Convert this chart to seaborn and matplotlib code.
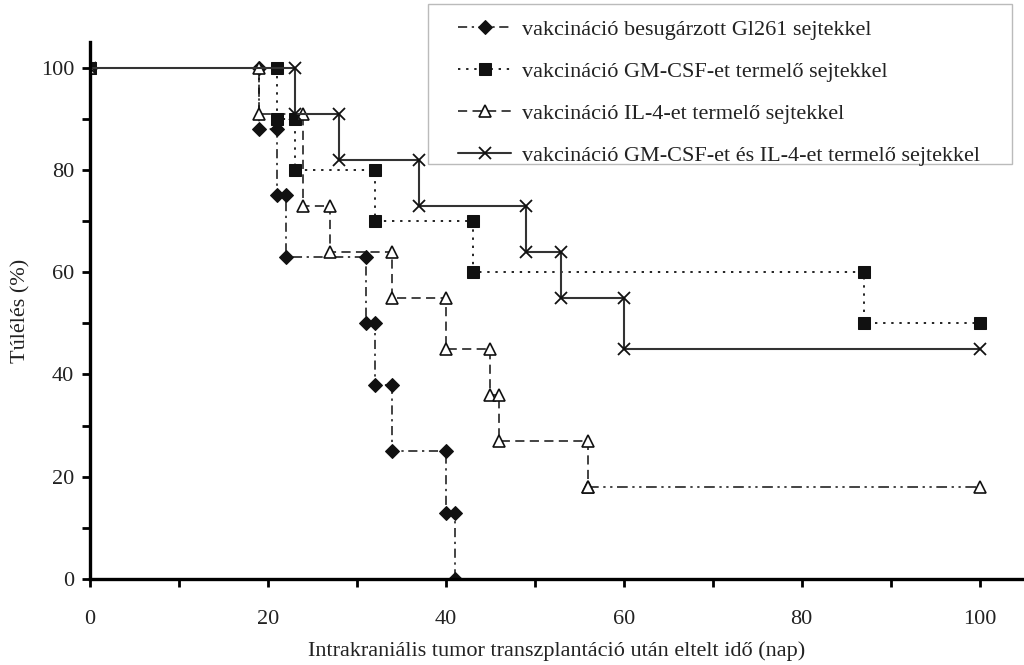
import matplotlib
matplotlib.use("Agg")
import matplotlib.pyplot as plt
from matplotlib.ticker import MultipleLocator
from matplotlib.patches import Rectangle
import seaborn as sns
import pandas as pd

# Survival data: event day and survival level (%) after each event
gl261_days = [19, 21, 22, 31, 32, 34, 40, 41]
gl261_surv = [88, 75, 63, 50, 38, 25, 13, 0]

gmcsf_days = [21, 23, 32, 43, 87]
gmcsf_surv = [90, 80, 70, 60, 50]

il4_days = [19, 24, 27, 34, 40, 45, 46, 56]
il4_surv = [91, 73, 64, 55, 45, 36, 27, 18]

combo_days = [23, 28, 37, 49, 53, 60]
combo_surv = [91, 82, 73, 64, 55, 45]

start_level = 100
followup_end = 100

labels = [
    "vakcináció besugárzott Gl261 sejtekkel",
    "vakcináció GM-CSF-et termelő sejtekkel",
    "vakcináció IL-4-et termelő sejtekkel",
    "vakcináció GM-CSF-et és IL-4-et termelő sejtekkel",
]


def km_steps(days, surv):
    """Vertices of a Kaplan-Meier step curve, a marker at every corner."""
    xs, ys = [0], [start_level]
    prev = start_level
    for d, s in zip(days, surv):
        xs += [d, d]
        ys += [prev, s]
        prev = s
    if prev > 0 and days[-1] < followup_end:
        xs.append(followup_end)
        ys.append(prev)
    return pd.DataFrame({"nap": xs, "tulel": ys})


sns.set_style("ticks")
plt.rcParams["font.family"] = ["Liberation Serif", "DejaVu Serif"]

FS = 16
W, H = 1024, 665
fig = plt.figure(figsize=(W / 100, H / 100), dpi=100)
ax = fig.add_axes([0.0879, 0.1293, 0.9121, 0.8075])

ink = "#111111"

# Gl261: dash-dot line with filled diamonds
d1 = km_steps(gl261_days, gl261_surv)
sns.lineplot(data=d1, x="nap", y="tulel", ax=ax, sort=False, estimator=None,
             color=ink, lw=1.1, linestyle=(0, (6, 3, 1.5, 3)),
             marker="D", markersize=7.5, markeredgecolor=ink, markerfacecolor=ink,
             label=labels[0])

# GM-CSF: dotted line with filled squares
d2 = km_steps(gmcsf_days, gmcsf_surv)
sns.lineplot(data=d2, x="nap", y="tulel", ax=ax, sort=False, estimator=None,
             color=ink, lw=1.3, linestyle=(0, (1.3, 3.2)),
             marker="s", markersize=8.5, markeredgecolor=ink, markerfacecolor=ink,
             label=labels[1])

# IL-4: dashed line with open triangles; the final follow-up stretch is dash-dot-dot
d3 = km_steps(il4_days, il4_surv)
d3_main = d3.iloc[:-1]
d3_tail = d3.iloc[-2:]
sns.lineplot(data=d3_main, x="nap", y="tulel", ax=ax, sort=False, estimator=None,
             color=ink, lw=1.1, linestyle=(0, (6, 3.5)),
             marker="^", markersize=9, markeredgecolor=ink, markerfacecolor="white",
             markeredgewidth=1.2, label=labels[2])
sns.lineplot(data=d3_tail, x="nap", y="tulel", ax=ax, sort=False, estimator=None,
             color=ink, lw=1.1, linestyle=(0, (7, 3, 1.5, 3, 1.5, 3)),
             marker="^", markersize=9, markeredgecolor=ink, markerfacecolor="white",
             markeredgewidth=1.2, legend=False, label="_nolegend_")

# GM-CSF + IL-4: solid line with crosses
d4 = km_steps(combo_days, combo_surv)
sns.lineplot(data=d4, x="nap", y="tulel", ax=ax, sort=False, estimator=None,
             color="#333333", lw=1.5, linestyle="-",
             marker="x", markersize=9, markeredgecolor=ink, markeredgewidth=1.3,
             label=labels[3])

ax.set_xlim(0, 105)
ax.set_ylim(0, 105)
ax.xaxis.set_major_locator(MultipleLocator(20))
ax.xaxis.set_minor_locator(MultipleLocator(10))
ax.yaxis.set_major_locator(MultipleLocator(20))
ax.yaxis.set_minor_locator(MultipleLocator(10))
ax.tick_params(axis="both", which="both", direction="out", length=5.5, width=2,
               color="black", labelsize=FS, labelcolor="#222222")
ax.tick_params(axis="x", which="major", pad=17)
ax.tick_params(axis="y", which="major", pad=6)

for side in ("top", "right"):
    ax.spines[side].set_visible(False)
for side in ("left", "bottom"):
    ax.spines[side].set_linewidth(2.4)
    ax.spines[side].set_color("black")

ax.set_xlabel("Intrakraniális tumor transzplantáció után eltelt idő (nap)",
              fontsize=FS, color="#222222", labelpad=9)
ax.set_ylabel("Túlélés (%)", fontsize=FS, color="#222222", labelpad=7)

# Legend box in the upper right, partly above the plotting area
box_l, box_t, box_r, box_b = 428, 4, 1012, 164
fig.patches.append(Rectangle((box_l / W, 1 - box_b / H),
                             (box_r - box_l) / W, (box_b - box_t) / H,
                             transform=fig.transFigure, facecolor="white",
                             edgecolor="#bbbbbb", linewidth=1.0, zorder=5))

handles, hlabels = ax.get_legend_handles_labels()
ax.get_legend().remove()
leg = fig.legend(handles, hlabels, loc="upper left",
                 bbox_to_anchor=((box_l + 30) / W, 1 - (box_t + 15) / H),
                 frameon=False, fontsize=FS, handlelength=2.4,
                 handletextpad=0.5, labelspacing=0.97, borderpad=0,
                 numpoints=1, borderaxespad=0)
leg.set_zorder(6)
for t in leg.get_texts():
    t.set_color("#222222")

fig.savefig("out.png", dpi=100)
